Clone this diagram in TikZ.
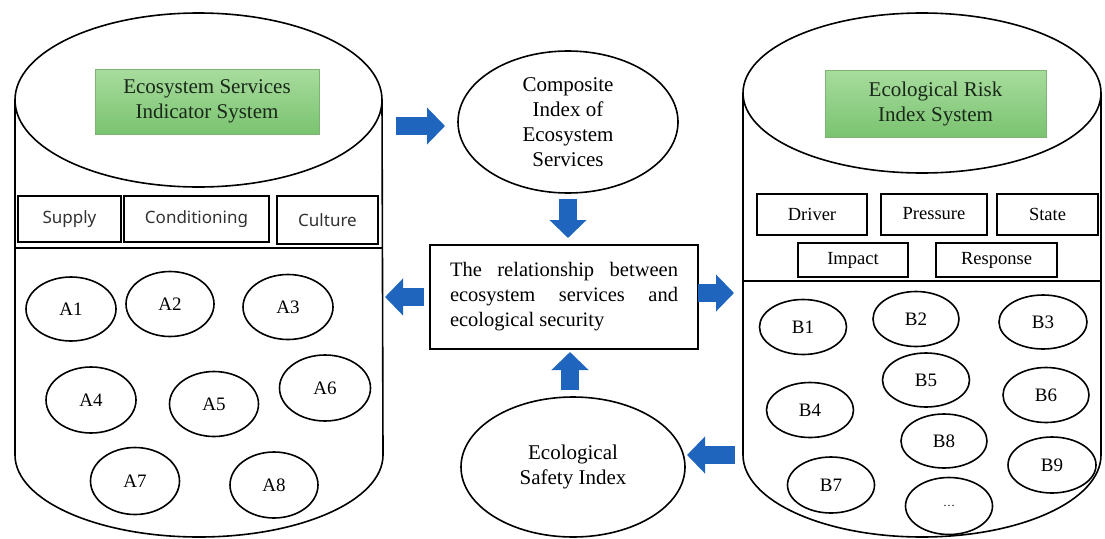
\documentclass[tikz,border=0pt]{standalone}
\usepackage{fontspec}
\setmainfont{Liberation Serif}
\newfontfamily\sansf{Noto Sans}
\usetikzlibrary{arrows.meta,shapes.geometric}
\definecolor{arrowblue}{RGB}{31,101,189}
\definecolor{gtop}{RGB}{168,220,158}
\definecolor{gbot}{RGB}{122,195,112}
\definecolor{gedge}{RGB}{125,180,115}
\definecolor{gtext}{RGB}{25,40,25}
\definecolor{sanstext}{RGB}{50,50,50}
\tikzset{
  cyl/.style={draw=black, line width=1.6pt},
  greenbox/.style={rectangle, draw=gedge, line width=0.4pt, top color=gtop, bottom color=gbot,
    inner sep=0pt, align=center, text=gtext, font=\fontsize{21}{25}\selectfont},
  catbox/.style={rectangle, draw=black, line width=2pt, inner sep=0pt, text=sanstext, font=\sansf\fontsize{17}{20}\selectfont},
  riskbox/.style={rectangle, draw=black, line width=2pt, inner sep=0pt, font=\fontsize{18.5}{22}\selectfont},
  item/.style={ellipse, draw=black, line width=1.6pt, inner sep=0pt, font=\fontsize{19}{22}\selectfont},
  bigell/.style={ellipse, draw=black, line width=1.6pt, inner sep=0pt, align=center, font=\fontsize{21}{25}\selectfont},
  barrow/.style={draw=arrowblue, line width=18pt, -{Triangle[length=18pt,width=36pt,fill=arrowblue]}},
}
\begin{document}
\begin{tikzpicture}[x=1pt,y=-1pt]
\useasboundingbox (0,0) rectangle (1105,538);
\fill[white] (0,0) rectangle (1105,538);

% ---------- left cylinder ----------
\draw[cyl] (15,100) -- (15,455) arc[start angle=180, end angle=0, x radius=184, y radius=82] -- (382,100);
\draw[cyl, fill=white] (198.5,100) ellipse[x radius=183.5, y radius=87];
\draw[cyl] (15,248) -- (382,248);
\node[greenbox, minimum width=224pt, minimum height=65pt] (esis) at (207,101.5) {Ecosystem Services\\Indicator System};
\node[catbox, minimum width=103pt, minimum height=46pt] (supply) at (69.5,219) {Supply};
\node[catbox, minimum width=145pt, minimum height=46pt] (cond) at (196.5,219) {Conditioning};
\node[catbox, minimum width=101pt, minimum height=48pt] (culture) at (327.5,220) {Culture};

\node[item, minimum width=90pt, minimum height=64pt] (A1) at (71,309) {A1};
\node[item, minimum width=88pt, minimum height=65pt] (A2) at (170,304) {A2};
\node[item, minimum width=90pt, minimum height=65pt] (A3) at (288,307) {A3};
\node[item, minimum width=90pt, minimum height=66pt] (A4) at (91,400) {A4};
\node[item, minimum width=89pt, minimum height=65pt] (A5) at (214,404) {A5};
\node[item, minimum width=91pt, minimum height=66pt] (A6) at (325,388) {A6};
\node[item, minimum width=89pt, minimum height=67pt] (A7) at (135,481) {A7};
\node[item, minimum width=88pt, minimum height=66pt] (A8) at (274,485) {A8};

% ---------- right cylinder ----------
\draw[cyl] (743,93) -- (743,455) arc[start angle=180, end angle=0, x radius=179, y radius=82] -- (1101,93);
\draw[cyl, fill=white] (922,93) ellipse[x radius=179, y radius=80];
\draw[cyl] (743,281) -- (1101,281);
\node[greenbox, minimum width=221pt, minimum height=67pt] (eris) at (935.5,103.5) {Ecological Risk\\Index System};
\node[riskbox, minimum width=110pt, minimum height=41pt] (driver) at (812,214) {Driver};
\node[riskbox, minimum width=106pt, minimum height=41pt] (pressure) at (934,214) {Pressure};
\node[riskbox, minimum width=101pt, minimum height=41pt] (state) at (1047.5,214) {State};
\node[riskbox, minimum width=110pt, minimum height=34pt] (impact) at (853,260) {Impact};
\node[riskbox, minimum width=121pt, minimum height=34pt] (response) at (996.5,260) {Response};

\node[item, minimum width=87pt, minimum height=55pt] (B1) at (803,327) {B1};
\node[item, minimum width=86pt, minimum height=55pt] (B2) at (916,319) {B2};
\node[item, minimum width=88pt, minimum height=54pt] (B3) at (1043,322) {B3};
\node[item, minimum width=87pt, minimum height=55pt] (B4) at (810,410) {B4};
\node[item, minimum width=87pt, minimum height=54pt] (B5) at (926,380) {B5};
\node[item, minimum width=86pt, minimum height=55pt] (B6) at (1046,395) {B6};
\node[item, minimum width=87pt, minimum height=56pt] (B7) at (831,485) {B7};
\node[item, minimum width=86pt, minimum height=54pt] (B8) at (944,441) {B8};
\node[item, minimum width=88pt, minimum height=56pt] (B9) at (1052,465) {B9};
\node[item, minimum width=87pt, minimum height=57pt] (Bdots) at (949,506) {\fontsize{12}{14}\selectfont\raisebox{-2pt}{\dots}};

% ---------- centre ----------
\node[bigell, minimum width=220pt, minimum height=142pt] (cies) at (568,122)
  {Composite\\Index of\\Ecosystem\\Services};
\node[rectangle, draw=black, line width=2pt, minimum width=268pt, minimum height=104pt, inner sep=0pt,
  font=\fontsize{20.5}{25}\selectfont] (rel) at (564,297)
  {\parbox{228pt}{\makebox[228pt][s]{The relationship between}\\
   \makebox[228pt][s]{ecosystem services and}\\
   ecological security}};
\node[bigell, minimum width=224pt, minimum height=140pt] (esi) at (573,467)
  {Ecological\\Safety Index};

% ---------- block arrows ----------
\coordinate (p1s) at (396,126);  \coordinate (p1e) at (445,126);
\coordinate (p2s) at (568,199);  \coordinate (p2e) at (568,238);
\coordinate (p3s) at (424,297);  \coordinate (p3e) at (385,297);
\coordinate (p4s) at (698,293);  \coordinate (p4e) at (734,293);
\coordinate (p5s) at (570,390);  \coordinate (p5e) at (570,352);
\coordinate (p6s) at (735,455);  \coordinate (p6e) at (687,455);
\draw[barrow] (p1s) -- (p1e);
\draw[barrow] (p2s) -- (p2e);
\draw[barrow] (p3s) -- (p3e);
\draw[barrow] (p4s) -- (p4e);
\draw[barrow] (p5s) -- (p5e);
\draw[barrow] (p6s) -- (p6e);
\end{tikzpicture}
\end{document}
